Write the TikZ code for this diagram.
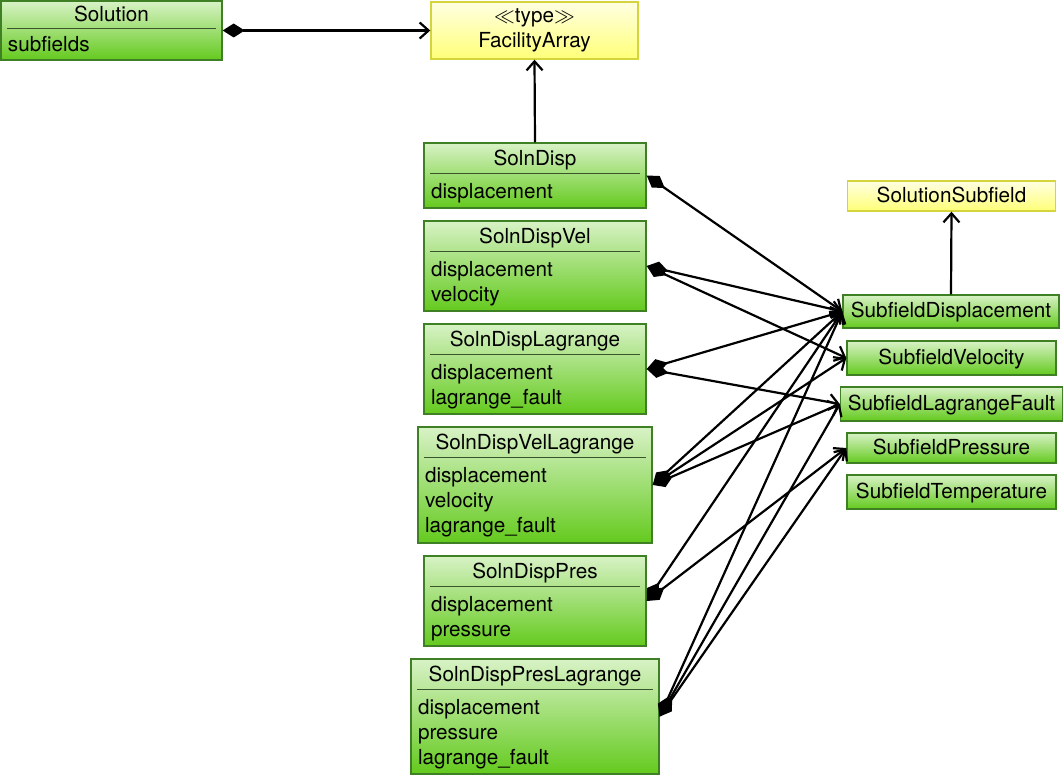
\documentclass[tikz,border=0pt]{standalone}
\usepackage{fontspec}
\setmainfont{TeX Gyre Heros}
\usepackage{tikz}
\usetikzlibrary{arrows.meta}
\usepackage{xcolor}
\definecolor{boxtop}{RGB}{216,242,198}
\definecolor{boxbot}{RGB}{100,202,30}
\definecolor{boxline}{RGB}{64,128,36}
\definecolor{typetop}{RGB}{255,255,226}
\definecolor{typebot}{RGB}{255,255,120}
\definecolor{typeline}{RGB}{212,212,60}
\definecolor{rulecol}{RGB}{58,84,46}

\begin{document}
\begin{tikzpicture}[x=1pt,y=-1pt,
  classbox/.style={draw=boxline,line width=1.4pt,top color=boxtop,bottom color=boxbot,inner sep=0pt},
  typebox/.style={draw=typeline,line width=1.4pt,top color=typetop,bottom color=typebot,inner sep=0pt},
  txt/.style={font=\fontsize{20.7}{25}\selectfont,inner sep=0pt},
  attrs/.style={txt,anchor=base west,text width=230pt,align=left},
  titlerule/.style={line width=0.9pt,draw=rulecol},
  compose/.style={line width=2.2pt,{Diamond[length=22pt,width=14pt]}-{Straight Barb[length=9pt,width=16pt]}},
  inherit/.style={line width=2.2pt,-{Straight Barb[length=9pt,width=16pt]}}]
  \useasboundingbox (0,0) rectangle (1063,775);

  % Solution and FacilityArray
  \node[classbox,minimum width=221pt,minimum height=59pt] (soln) at (111.5,30.5) {};
  \node[txt,anchor=base] (solnT) at ([yshift=-21.7pt]soln.north) {Solution};
  \draw[titlerule] ([xshift=7pt,yshift=-27.7pt]soln.north west) -- ([xshift=-7pt,yshift=-27.7pt]soln.north east);
  \node[attrs] (solnA) at ([xshift=7.5pt,yshift=-51.7pt]soln.north west) {subfields};

  \node[typebox,minimum width=207pt,minimum height=57pt,txt,align=center] (facarray) at (534.5,30.5) {$\ll$type$\gg$\\FacilityArray};

  % Soln classes
  \node[classbox,minimum width=222pt,minimum height=65pt] (solnDisp) at (535,175.5) {};
  \node[txt,anchor=base] (solnDispT) at ([yshift=-23.3pt]solnDisp.north) {SolnDisp};
  \draw[titlerule] ([xshift=7pt,yshift=-30.8pt]solnDisp.north west) -- ([xshift=-7pt,yshift=-30.8pt]solnDisp.north east);
  \node[attrs] (solnDispA) at ([xshift=7.5pt,yshift=-55.8pt]solnDisp.north west) {displacement};

  \node[classbox,minimum width=222pt,minimum height=90pt] (solnDispVel) at (535,266) {};
  \node[txt,anchor=base] (solnDispVelT) at ([yshift=-23.3pt]solnDispVel.north) {SolnDispVel};
  \draw[titlerule] ([xshift=7pt,yshift=-30.8pt]solnDispVel.north west) -- ([xshift=-7pt,yshift=-30.8pt]solnDispVel.north east);
  \node[attrs] (solnDispVelA) at ([xshift=7.5pt,yshift=-55.8pt]solnDispVel.north west) {displacement\\velocity};

  \node[classbox,minimum width=222pt,minimum height=90pt] (solnDispLag) at (535,369) {};
  \node[txt,anchor=base] (solnDispLagT) at ([yshift=-23.3pt]solnDispLag.north) {SolnDispLagrange};
  \draw[titlerule] ([xshift=7pt,yshift=-30.8pt]solnDispLag.north west) -- ([xshift=-7pt,yshift=-30.8pt]solnDispLag.north east);
  \node[attrs] (solnDispLagA) at ([xshift=7.5pt,yshift=-55.8pt]solnDispLag.north west) {displacement\\lagrange\_fault};

  \node[classbox,minimum width=234pt,minimum height=116pt] (solnDispVelLag) at (535,485) {};
  \node[txt,anchor=base] (solnDispVelLagT) at ([yshift=-23.3pt]solnDispVelLag.north) {SolnDispVelLagrange};
  \draw[titlerule] ([xshift=7pt,yshift=-30.8pt]solnDispVelLag.north west) -- ([xshift=-7pt,yshift=-30.8pt]solnDispVelLag.north east);
  \node[attrs] (solnDispVelLagA) at ([xshift=7.5pt,yshift=-55.8pt]solnDispVelLag.north west) {displacement\\velocity\\lagrange\_fault};

  \node[classbox,minimum width=222pt,minimum height=90pt] (solnDispPres) at (535,601) {};
  \node[txt,anchor=base] (solnDispPresT) at ([yshift=-23.3pt]solnDispPres.north) {SolnDispPres};
  \draw[titlerule] ([xshift=7pt,yshift=-30.8pt]solnDispPres.north west) -- ([xshift=-7pt,yshift=-30.8pt]solnDispPres.north east);
  \node[attrs] (solnDispPresA) at ([xshift=7.5pt,yshift=-55.8pt]solnDispPres.north west) {displacement\\pressure};

  \node[classbox,minimum width=248pt,minimum height=115pt] (solnDispPresLag) at (535,716.5) {};
  \node[txt,anchor=base] (solnDispPresLagT) at ([yshift=-23.3pt]solnDispPresLag.north) {SolnDispPresLagrange};
  \draw[titlerule] ([xshift=7pt,yshift=-30.8pt]solnDispPresLag.north west) -- ([xshift=-7pt,yshift=-30.8pt]solnDispPresLag.north east);
  \node[attrs] (solnDispPresLagA) at ([xshift=7.5pt,yshift=-55.8pt]solnDispPresLag.north west) {displacement\\pressure\\lagrange\_fault};

  % Subfields
  \node[typebox,minimum width=208pt,minimum height=30pt,txt,text height=15.5pt,text depth=3pt] (solnSubfield) at (951.5,196) {SolutionSubfield};
  \node[classbox,minimum width=216pt,minimum height=33pt,txt,text height=15.5pt,text depth=3pt] (sfDisp) at (951,311.5) {SubfieldDisplacement};
  \node[classbox,minimum width=209pt,minimum height=34pt,txt,text height=15.5pt,text depth=3pt] (sfVel) at (951.5,358) {SubfieldVelocity};
  \node[classbox,minimum width=222pt,minimum height=34pt,txt,text height=15.5pt,text depth=3pt] (sfLag) at (951.5,404) {SubfieldLagrangeFault};
  \node[classbox,minimum width=209pt,minimum height=30pt,txt,text height=15.5pt,text depth=3pt] (sfPres) at (951.5,448) {SubfieldPressure};
  \node[classbox,minimum width=209pt,minimum height=34pt,txt,text height=15.5pt,text depth=3pt] (sfTemp) at (951.5,492) {SubfieldTemperature};

  \draw[compose] (soln.east) -- (facarray.west);
  \draw[inherit] (solnDisp.north) -- (facarray.south);
  \draw[inherit] (sfDisp.north) -- (solnSubfield.south);

  \draw[compose] (solnDisp.east) -- (sfDisp.west);
  \draw[compose] (solnDispVel.east) -- (sfDisp.west);
  \draw[compose] (solnDispVel.east) -- (sfVel.west);
  \draw[compose] (solnDispLag.east) -- (sfDisp.west);
  \draw[compose] (solnDispLag.east) -- (sfLag.west);
  \draw[compose] (solnDispVelLag.east) -- (sfDisp.west);
  \draw[compose] (solnDispVelLag.east) -- (sfVel.west);
  \draw[compose] (solnDispVelLag.east) -- (sfLag.west);
  \draw[compose] (solnDispPres.east) -- (sfDisp.west);
  \draw[compose] (solnDispPres.east) -- (sfPres.west);
  \draw[compose] (solnDispPresLag.east) -- (sfDisp.west);
  \draw[compose] (solnDispPresLag.east) -- (sfLag.west);
  \draw[compose] (solnDispPresLag.east) -- (sfPres.west);
\end{tikzpicture}
\end{document}
